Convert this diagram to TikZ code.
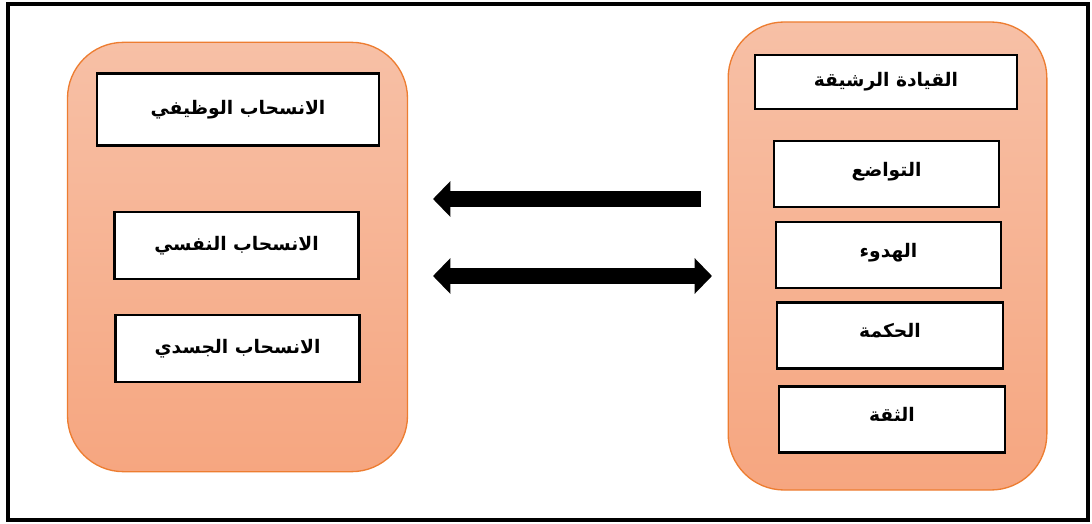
\documentclass[tikz,border=0pt]{standalone}
\usepackage{fontspec}
\newfontfamily\arabicfont[Script=Arabic]{DejaVu Sans}
\TeXXeTstate=1
\usetikzlibrary{arrows.meta}
\definecolor{PanelEdge}{HTML}{ED7D31}
\definecolor{PanelTop}{HTML}{F7C0A6}
\definecolor{PanelBottom}{HTML}{F6A680}

\begin{document}
\begin{tikzpicture}[
  x=0.75pt, y=-0.75pt,
  panel/.style={draw=PanelEdge, line width=1pt, rounded corners=42pt, top color=PanelTop, bottom color=PanelBottom},
  item/.style={draw=black, line width=1.6pt, fill=white, inner sep=0pt, font=\arabicfont\bfseries\fontsize{14}{16}\selectfont},
  wide/.style={item, minimum width=212pt, minimum height=54pt},
  mid/.style={item, minimum width=183pt, minimum height=50pt},
  narrow/.style={item, minimum width=169pt, minimum height=49.5pt, text height=10pt, text depth=7pt},
  arrow/.style={line width=12pt, -{Triangle[length=13pt,width=26pt]}},
  twoway/.style={line width=12pt, {Triangle[length=13pt,width=26pt]}-{Triangle[length=13pt,width=26pt]}}
]
  \useasboundingbox (0,0) rectangle (1092,524);
  \draw[line width=3pt] (8,4) rectangle (1088,520);

  % withdrawal side
  \node[panel, minimum width=255pt, minimum height=322pt] (withdraw) at (237.5,257) {};
  \node[wide] (jobWd) at (238,109.5) {\beginR الانسحاب الوظيفي\endR};
  \node[mid] (psychWd) at (236.5,245.5) {\beginR الانسحاب النفسي\endR};
  \node[mid] (bodyWd) at (237.5,348.5) {\beginR الانسحاب الجسدي\endR};

  % leadership side
  \node[panel, minimum width=239pt, minimum height=351pt] (lead) at (887.5,256) {};
  \node[item, minimum width=196pt, minimum height=40.5pt] (agile) at (886,82) {\beginR القيادة الرشيقة\endR};
  \node[narrow] (humble) at (886.5,174) {\beginR التواضع\endR};
  \node[narrow] (calm) at (888.5,255) {\beginR الهدوء\endR};
  \node[narrow] (wisdom) at (890,335.5) {\beginR الحكمة\endR};
  \node[narrow] (trust) at (892,419.5) {\beginR الثقة\endR};

  \coordinate (oneFrom) at (701,199);
  \coordinate (oneTo) at (433,199);
  \coordinate (twoLeft) at (433,276);
  \coordinate (twoRight) at (712,276);

  \draw[arrow] (oneFrom) -- (oneTo);
  \draw[twoway] (twoLeft) -- (twoRight);
\end{tikzpicture}
\end{document}
